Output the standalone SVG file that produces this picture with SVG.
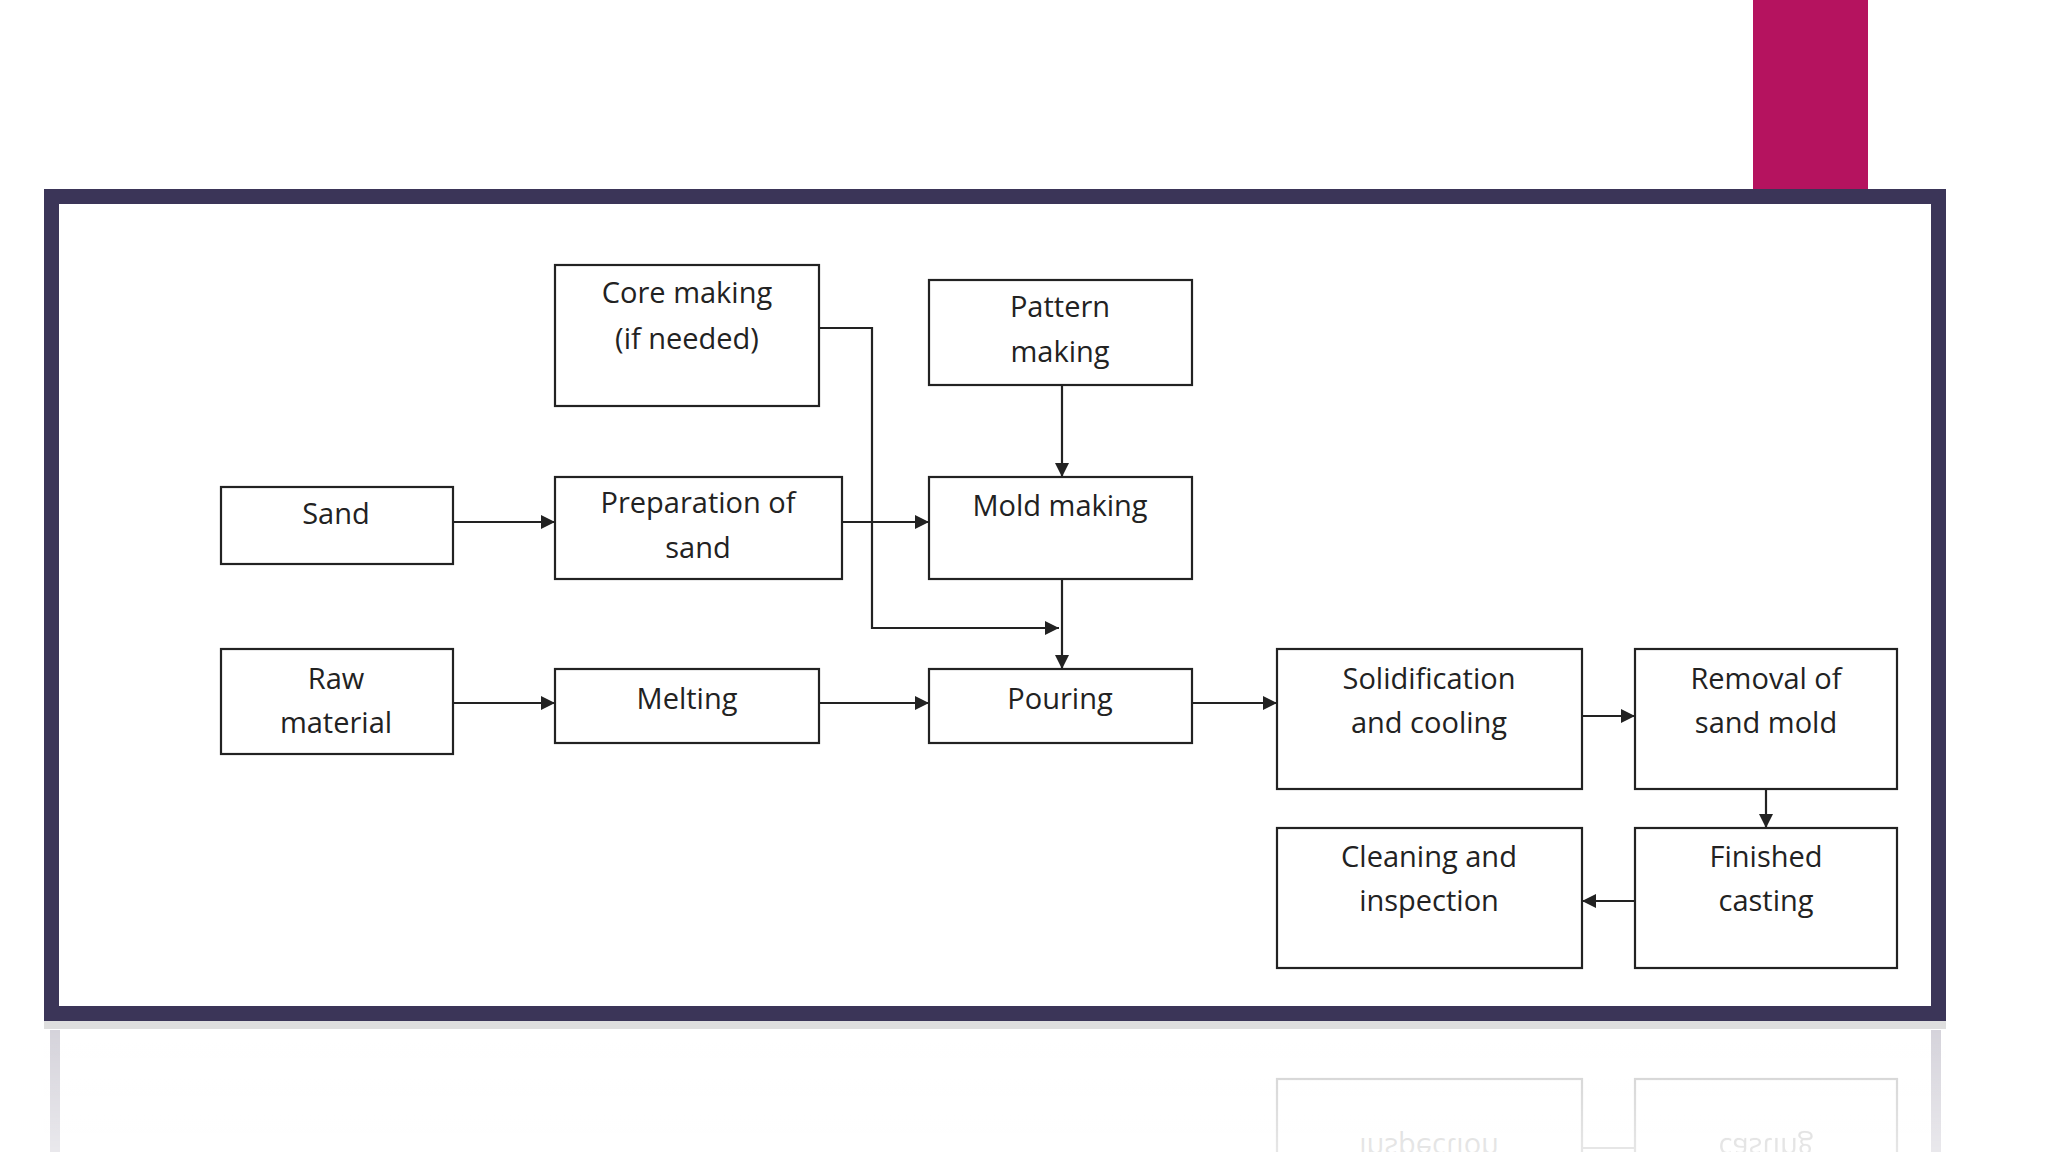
<svg xmlns="http://www.w3.org/2000/svg" width="2048" height="1152" viewBox="0 0 2048 1152">
<style>
.b{fill:#fff;stroke:#222;stroke-width:2.2}
.t{font-family:"Open Sans","Liberation Sans",sans-serif;font-size:29px;fill:#222;text-anchor:middle}
.c{fill:none;stroke:#222;stroke-width:2.2;marker-end:url(#a)}
.r{opacity:0.22}
</style>
<defs>
<marker id="a" viewBox="0 0 10 10" refX="10" refY="5" markerWidth="16" markerHeight="14" markerUnits="userSpaceOnUse" orient="auto"><path d="M0,0L10,5L0,10z" fill="#222"/></marker>
<linearGradient id="f" x1="0" y1="0" x2="0" y2="1"><stop offset="0" stop-color="#fff" stop-opacity="0"/><stop offset="1" stop-color="#fff" stop-opacity="0.5"/></linearGradient>
</defs>
<rect width="2048" height="1152" fill="#fff"/>
<rect x="1753" y="0" width="115" height="192" fill="#b5135f"/>
<g class="r">
<rect x="50" y="1030" width="10" height="122" fill="#3b3558"/>
<rect x="1931" y="1030" width="10" height="122" fill="#3b3558"/>
<rect class="b" x="1277" y="1079" width="305" height="100"/>
<rect class="b" x="1635" y="1079" width="262" height="100"/>
<path d="M1635,1148H1582" fill="none" stroke="#222" stroke-width="2.2"/>
<text class="t" transform="translate(0,2256) scale(1,-1)" x="1429" y="1118">inspection</text>
<text class="t" transform="translate(0,2256) scale(1,-1)" x="1766" y="1118">casting</text>
</g>
<rect x="44" y="1021" width="1902" height="131" fill="url(#f)"/>
<rect x="44" y="1021" width="1902" height="8" fill="#c8c8c8" opacity="0.6"/>
<rect x="51.5" y="196.5" width="1887" height="817" fill="#fff" stroke="#3b3558" stroke-width="15"/>
<g id="connectors">
<path class="c" d="M819,328H872V628H1059"/>
<path class="c" d="M1062,385V477"/>
<path class="c" d="M1062,579V669"/>
<path class="c" d="M453,522H555"/>
<path class="c" d="M842,522H929"/>
<path class="c" d="M453,703H555"/>
<path class="c" d="M819,703H929"/>
<path class="c" d="M1192,703H1277"/>
<path class="c" d="M1582,716H1635"/>
<path class="c" d="M1766,789V828"/>
<path class="c" d="M1635,901H1582"/>
</g>
<g id="core"><rect class="b" x="555" y="265" width="264" height="141"/><text class="t" x="687" y="303">Core making</text><text class="t" x="687" y="349">(if needed)</text></g>
<g id="pattern"><rect class="b" x="929" y="280" width="263" height="105"/><text class="t" x="1060" y="317">Pattern</text><text class="t" x="1060" y="362">making</text></g>
<g id="sand"><rect class="b" x="221" y="487" width="232" height="77"/><text class="t" x="336" y="524">Sand</text></g>
<g id="prep"><rect class="b" x="555" y="477" width="287" height="102"/><text class="t" x="698" y="513">Preparation of</text><text class="t" x="698" y="558">sand</text></g>
<g id="mold"><rect class="b" x="929" y="477" width="263" height="102"/><text class="t" x="1060" y="516">Mold making</text></g>
<g id="raw"><rect class="b" x="221" y="649" width="232" height="105"/><text class="t" x="336" y="689">Raw</text><text class="t" x="336" y="733">material</text></g>
<g id="melting"><rect class="b" x="555" y="669" width="264" height="74"/><text class="t" x="687" y="709">Melting</text></g>
<g id="pouring"><rect class="b" x="929" y="669" width="263" height="74"/><text class="t" x="1060" y="709">Pouring</text></g>
<g id="solid"><rect class="b" x="1277" y="649" width="305" height="140"/><text class="t" x="1429" y="689">Solidification</text><text class="t" x="1429" y="733">and cooling</text></g>
<g id="removal"><rect class="b" x="1635" y="649" width="262" height="140"/><text class="t" x="1766" y="689">Removal of</text><text class="t" x="1766" y="733">sand mold</text></g>
<g id="cleaning"><rect class="b" x="1277" y="828" width="305" height="140"/><text class="t" x="1429" y="867">Cleaning and</text><text class="t" x="1429" y="911">inspection</text></g>
<g id="finished"><rect class="b" x="1635" y="828" width="262" height="140"/><text class="t" x="1766" y="867">Finished</text><text class="t" x="1766" y="911">casting</text></g>
</svg>
